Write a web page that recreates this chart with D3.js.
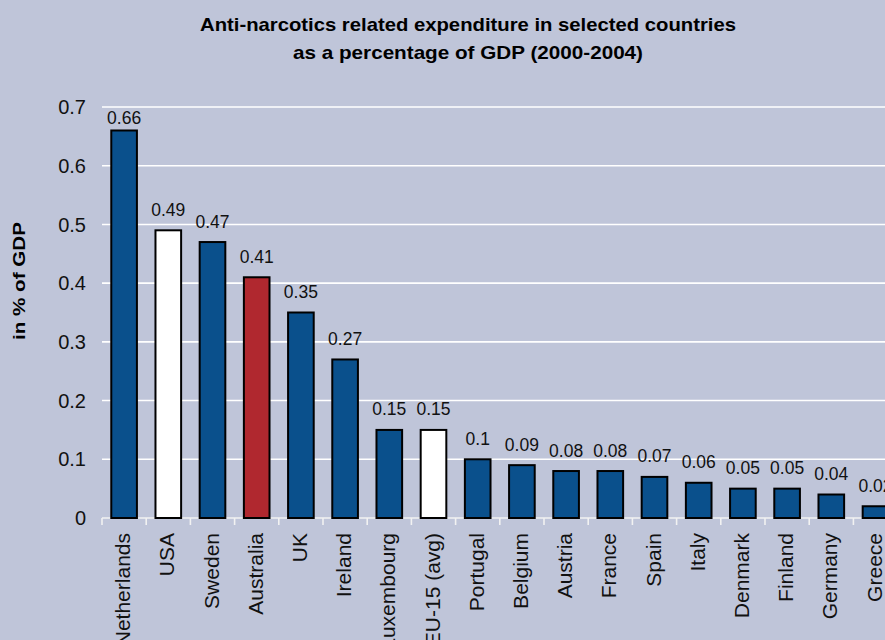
<!DOCTYPE html>
<html>
<head>
<meta charset="utf-8">
<script src="https://cdn.jsdelivr.net/npm/d3@7"></script>
<style>
  html, body { margin: 0; padding: 0; background: #BFC5D9; overflow: hidden; }
  svg { display: block; }
</style>
</head>
<body>
<svg id="chart" width="885" height="640"></svg>
<script>
const titleLines = ["Anti-narcotics related expenditure in selected countries", "as a percentage of GDP (2000-2004)"];
const yAxisTitle = "in % of GDP";
const categories = ["Netherlands","USA","Sweden","Australia","UK","Ireland","Luxembourg","EU-15 (avg)","Portugal","Belgium","Austria","France","Spain","Italy","Denmark","Finland","Germany","Greece"];
const values = [0.66,0.49,0.47,0.41,0.35,0.27,0.15,0.15,0.1,0.09,0.08,0.08,0.07,0.06,0.05,0.05,0.04,0.02];
const yTicks = [0,0.1,0.2,0.3,0.4,0.5,0.6,0.7];
const whiteBars = ["USA","EU-15 (avg)"];
const redBars = ["Australia"];

const svg = d3.select("#chart");
const W = 885, H = 640;
svg.append("rect").attr("width", W).attr("height", H).attr("fill", "#BFC5D9");

const x0 = 102, step = 44.2;
const x = d3.scaleBand().domain(categories)
  .range([x0, x0 + step * categories.length])
  .paddingInner(0.42).paddingOuter(0.21);
const y = d3.scaleLinear().domain([0, 0.7]).range([518, 107]);

// gridlines
svg.append("g").selectAll("line").data(yTicks.filter(d => d > 0)).join("line")
  .attr("x1", x0).attr("x2", W)
  .attr("y1", d => y(d)).attr("y2", d => y(d))
  .attr("stroke", "#ffffff").attr("stroke-width", 1.6);

// y tick labels
svg.append("g").selectAll("text").data(yTicks).join("text")
  .attr("x", 86).attr("y", d => y(d)).attr("dy", "0.36em")
  .attr("text-anchor", "end")
  .attr("font-family", "Liberation Sans, Arial, sans-serif")
  .attr("font-size", 20).attr("fill", "#111")
  .text(d => d3.format("")(d));

// x axis
const xAxis = d3.axisBottom(x).tickSize(0).tickFormat("");
const gx = svg.append("g").attr("transform", `translate(0,${y(0)})`).call(xAxis);
gx.select(".domain").remove();
gx.append("line").attr("x1", x0).attr("x2", W).attr("y1", 0).attr("y2", 0)
  .attr("stroke", "#f2f2f2").attr("stroke-width", 1.6);
gx.append("g").selectAll("line").data(d3.range(categories.length + 1)).join("line")
  .attr("x1", i => x0 + i * x.step()).attr("x2", i => x0 + i * x.step())
  .attr("y1", 0).attr("y2", 7)
  .attr("stroke", "#f2f2f2").attr("stroke-width", 1.6);

// bars
const fillFor = c => whiteBars.includes(c) ? "#ffffff" : (redBars.includes(c) ? "#B0282F" : "#0A508C");
svg.append("g").selectAll("rect").data(categories).join("rect")
  .attr("x", c => x(c)).attr("width", x.bandwidth())
  .attr("y", (c, i) => y(values[i])).attr("height", (c, i) => y(0) - y(values[i]))
  .attr("fill", c => fillFor(c)).attr("stroke", "#000").attr("stroke-width", 2);

// value labels
svg.append("g").selectAll("text").data(categories).join("text")
  .attr("x", c => x(c) + x.bandwidth() / 2)
  .attr("y", (c, i) => Math.max(y(values[i]) - 14.5, 123.5))
  .attr("text-anchor", "middle")
  .attr("font-family", "Liberation Sans, Arial, sans-serif")
  .attr("font-size", 17.5).attr("fill", "#111")
  .text((c, i) => d3.format("")(values[i]));

// category labels
svg.append("g").selectAll("text").data(categories).join("text")
  .attr("transform", c => `translate(${x(c) + x.bandwidth() / 2 - 1.5},533) rotate(-90)`)
  .attr("dy", "0.36em")
  .attr("text-anchor", "end")
  .attr("font-family", "Liberation Sans, Arial, sans-serif")
  .attr("font-size", 21).attr("fill", "#111")
  .text(c => c);

// title
const titleWidths = [536, 350];
svg.append("g").selectAll("text").data(titleLines).join("text")
  .attr("x", 468).attr("y", (d, i) => 31 + i * 28)
  .attr("text-anchor", "middle")
  .attr("font-family", "Liberation Sans, Arial, sans-serif")
  .attr("font-weight", "bold").attr("font-size", 18.5).attr("fill", "#000")
  .attr("textLength", (d, i) => titleWidths[i]).attr("lengthAdjust", "spacingAndGlyphs")
  .text(d => d);

// y axis title
svg.append("text")
  .attr("transform", "translate(19,281) rotate(-90)")
  .attr("dy", "0.36em")
  .attr("text-anchor", "middle")
  .attr("font-family", "Liberation Sans, Arial, sans-serif")
  .attr("font-weight", "bold").attr("font-size", 17).attr("fill", "#000")
  .attr("textLength", 118).attr("lengthAdjust", "spacingAndGlyphs")
  .text(yAxisTitle);
</script>
</body>
</html>
